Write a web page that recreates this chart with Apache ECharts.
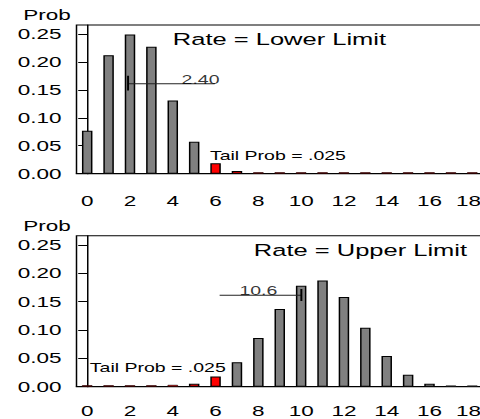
<!DOCTYPE html>
<html>
<head>
<meta charset="utf-8">
<script src="https://cdn.jsdelivr.net/npm/echarts@6/dist/echarts.min.js"></script>
<style>
  html, body { margin: 0; padding: 0; width: 480px; height: 419px; overflow: hidden; background: #fff; }
  #chart { position: absolute; left: 0; top: 0; width: 322px; height: 419px; transform: scaleX(1.5); transform-origin: 0 0; }
</style>
</head>
<body>
<div id="chart"></div>
<script>
// ---- data ----
const categories = [0, 1, 2, 3, 4, 5, 6, 7, 8, 9, 10, 11, 12, 13, 14, 15, 16, 17, 18];
const lowerLimitProbs = [0.077, 0.212, 0.249, 0.227, 0.131, 0.057, 0.0185, 0.005, 0.0025, 0.0025, 0.0025, 0.0025, 0.0025, 0.0025, 0.0025, 0.0025, 0.0025, 0.0025, 0.0025];
const upperLimitProbs = [0.0025, 0.0025, 0.0025, 0.0025, 0.003, 0.005, 0.018, 0.043, 0.086, 0.137, 0.178, 0.187, 0.158, 0.104, 0.054, 0.021, 0.005, 0.002, 0.002];
const lowerTailFrom = 6;   // red bars from this count upward (top panel)
const upperTailTo = 6;     // red bars up to this count (bottom panel)
const xTickLabels = [0, 2, 4, 6, 8, 10, 12, 14, 16, 18];
const yTickValues = [0, 0.05, 0.10, 0.15, 0.20, 0.25];
const lowerRateLine = [[1.91, 0.161], [5.96, 0.161]];
const lowerRateTick = [[1.91, 0.149], [1.91, 0.175]];
const lowerRateLabel = [[5.3, 0.161, '2.40']];
const upperRateLine = [[6.19, 0.161], [10.01, 0.161]];
const upperRateTick = [[10.01, 0.151], [10.01, 0.172]];
const upperRateLabel = [[8.0, 0.161, '10.6']];
const panelTitles = ['Rate = Lower Limit', 'Rate = Upper Limit'];
const tailText = 'Tail Prob = .025';

// ---- styles ----
const FONT = 'Liberation Sans';
const GRAY = '#808080', RED = '#ff0000';

const chart = echarts.init(document.getElementById('chart'), null, { renderer: 'svg' });

function barData(vals, isTail) {
  return categories.map((c, i) => ({
    value: [c, vals[i]],
    itemStyle: { color: isTail(c) ? RED : GRAY, borderColor: '#000', borderWidth: vals[i] < 0.004 ? 0.5 : 1 }
  }));
}

function xAxis(gridIndex, margin) {
  return {
    type: 'value', gridIndex, min: -0.5, max: 18.5,
    splitLine: { show: false },
    axisLine: { show: true, onZero: false, lineStyle: { color: '#000', width: 1 } },
    axisTick: { show: false },
    axisLabel: { customValues: xTickLabels, margin, color: '#000', fontSize: 15, fontFamily: FONT,
      formatter: v => (v === 18 ? '{e|18}' : String(v)),
      rich: { e: { fontSize: 15, fontFamily: FONT, color: '#000', padding: [0, 5, 0, 0] } } }
  };
}
function yAxis(gridIndex) {
  return {
    type: 'value', gridIndex, min: 0, max: 0.266,
    name: 'Prob', nameLocation: 'end', nameGap: 10,
    nameTextStyle: { align: 'right', verticalAlign: 'middle', padding: [0, 11, 0, 0], color: '#000', fontSize: 15, fontFamily: FONT },
    splitLine: { show: false },
    axisLine: { show: true, lineStyle: { color: '#000', width: 1 } },
    axisTick: { show: true, customValues: yTickValues, length: 6, lineStyle: { color: '#000' } },
    axisLabel: { customValues: yTickValues, margin: 10, color: '#000', fontSize: 15, fontFamily: FONT,
      formatter: v => v.toFixed(2) }
  };
}
function lineSeries(idx, data, color, width) {
  return { type: 'line', xAxisIndex: idx, yAxisIndex: idx, data, symbol: 'none', silent: true, z: 5,
    lineStyle: { color, width }, animation: false };
}
function labelSeries(idx, data) {
  return { type: 'scatter', xAxisIndex: idx, yAxisIndex: idx, data, symbolSize: 0, silent: true, z: 6,
    label: { show: true, position: 'top', distance: -2, formatter: p => p.data[2], color: '#000', fontSize: 13, fontFamily: FONT } };
}

const option = {
  animation: false,
  textStyle: { fontFamily: FONT, fontSize: 15, color: '#000' },
  grid: [
    { left: 51, right: 0, top: 25, bottom: 245.3, show: true, borderColor: '#000', borderWidth: 1, outerBoundsMode: 'none', containLabel: false },
    { left: 51, right: 0, top: 235.7, bottom: 32.3, show: true, borderColor: '#000', borderWidth: 1, outerBoundsMode: 'none', containLabel: false }
  ],
  xAxis: [xAxis(0, 20), xAxis(1, 17)],
  yAxis: [yAxis(0), yAxis(1)],
  series: [
    { type: 'bar', xAxisIndex: 0, yAxisIndex: 0, barWidth: 7, data: barData(lowerLimitProbs, c => c >= lowerTailFrom) },
    { type: 'bar', xAxisIndex: 1, yAxisIndex: 1, barWidth: 7, data: barData(upperLimitProbs, c => c <= upperTailTo) },
    lineSeries(0, lowerRateLine, '#222', 1),
    lineSeries(0, lowerRateTick, '#000', 1.3),
    lineSeries(1, upperRateLine, '#222', 1),
    lineSeries(1, upperRateTick, '#000', 1.3),
    labelSeries(0, lowerRateLabel),
    labelSeries(1, upperRateLabel)
  ],
  graphic: [
    { type: 'text', x: 186.3, y: 38.7, style: { text: panelTitles[0], fontSize: 17, fontFamily: FONT, fill: '#000', align: 'center', verticalAlign: 'middle' } },
    { type: 'text', x: 240.3, y: 249.7, style: { text: panelTitles[1], fontSize: 17, fontFamily: FONT, fill: '#000', align: 'center', verticalAlign: 'middle' } },
    { type: 'text', x: 185.3, y: 155.5, style: { text: tailText, fontSize: 13, fontFamily: FONT, fill: '#000', align: 'center', verticalAlign: 'middle' } },
    { type: 'text', x: 105.2, y: 367.2, style: { text: tailText, fontSize: 13, fontFamily: FONT, fill: '#000', align: 'center', verticalAlign: 'middle' } }
  ]
};
chart.setOption(option);
</script>
</body>
</html>
